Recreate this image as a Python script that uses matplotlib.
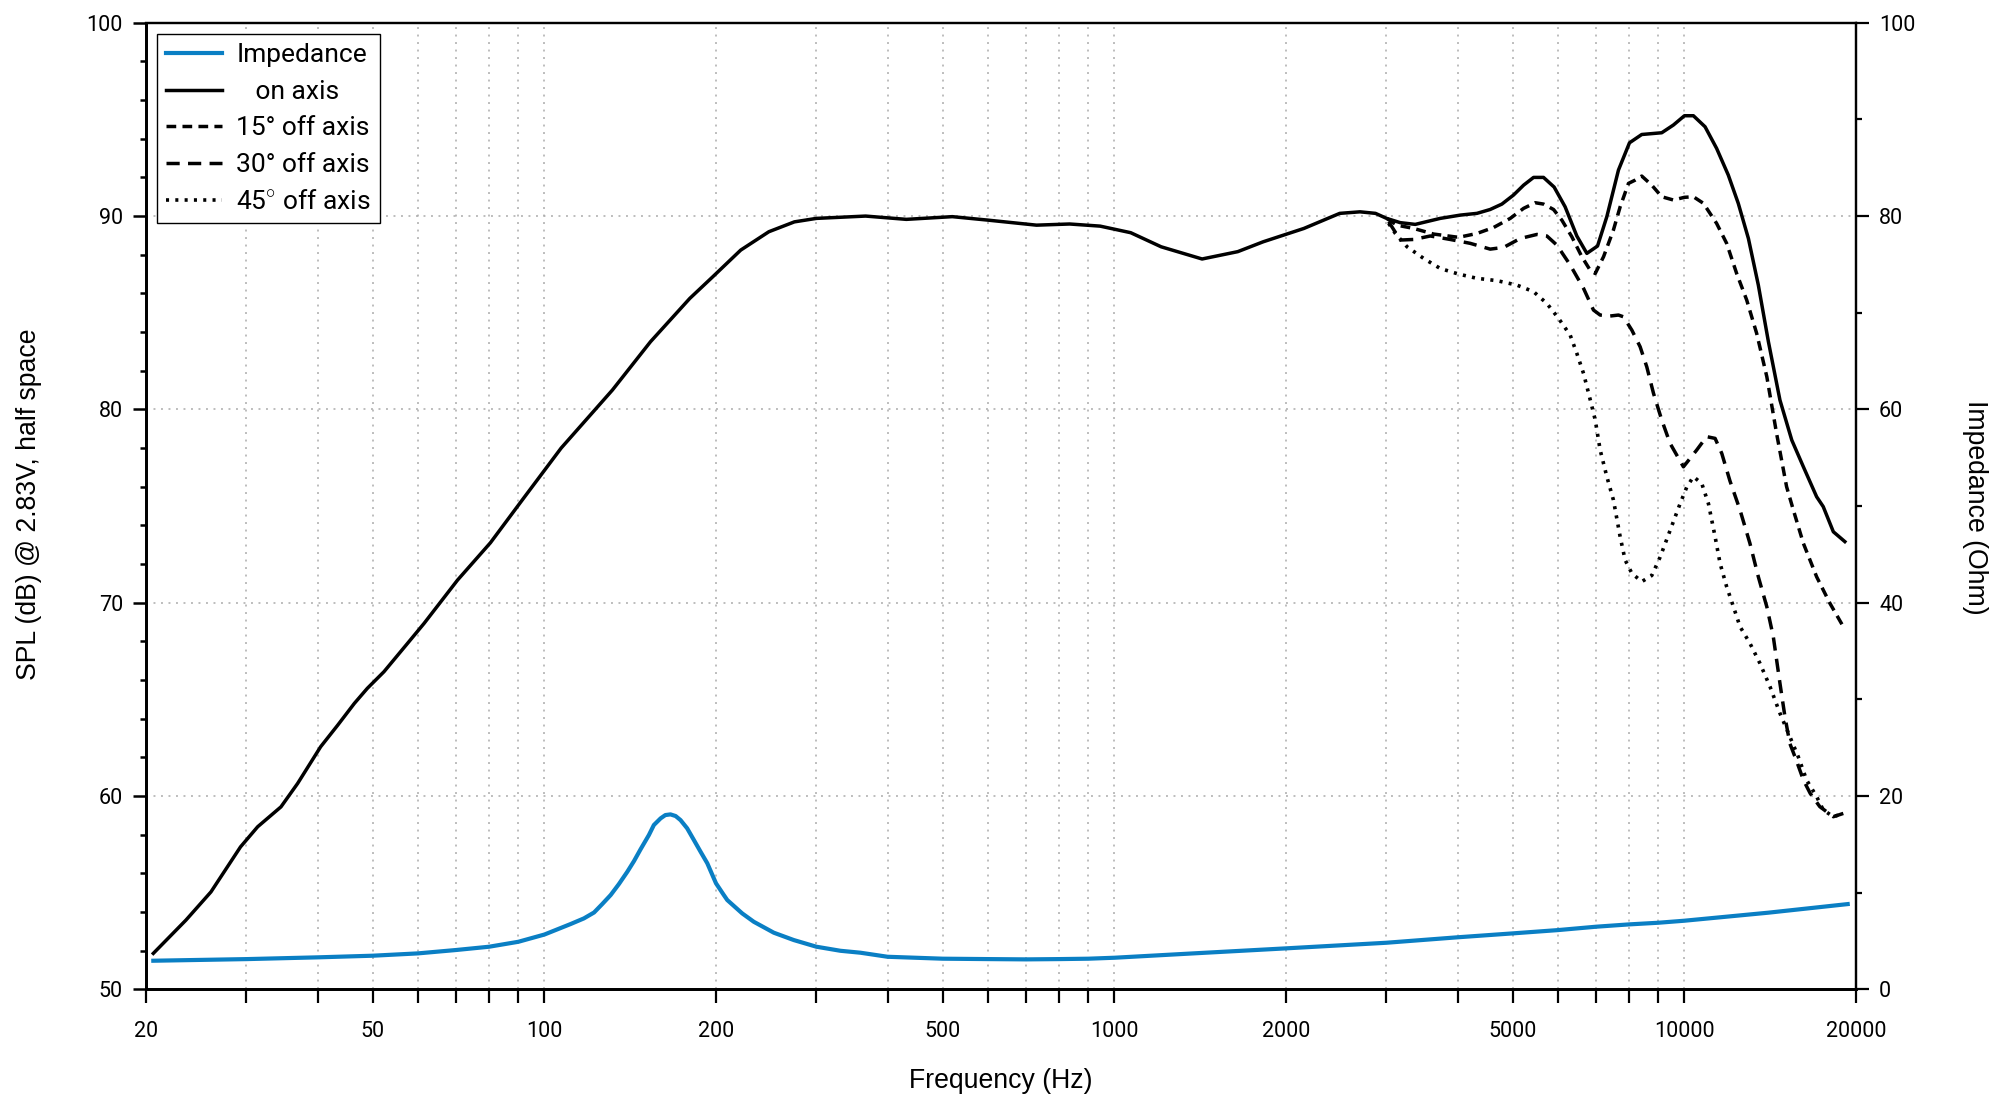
import matplotlib
matplotlib.use("Agg")
import matplotlib.pyplot as plt
from matplotlib.ticker import FixedLocator, FuncFormatter, MultipleLocator, NullLocator

plt.rcParams['font.family'] = ['Roboto', 'DejaVu Sans']
plt.rcParams['lines.scale_dashes'] = False
plt.rcParams['mathtext.fontset'] = 'custom'
plt.rcParams['mathtext.rm'] = 'Roboto'

# on axis SPL
f_on = [20.6, 23.5, 26.0, 29.3, 31.4, 34.5, 36.9, 40.5, 43.4, 46.4, 48.9, 52.3, 57.5, 61.5,
        65.8, 70.4, 80.4, 91.9, 107, 131.6, 153.5, 179.9, 197.4, 221, 247.6, 274.5, 300,
        366, 431.5, 519.6, 600, 730, 834.5, 944, 1068, 1208, 1425, 1646, 1824, 2150, 2485,
        2697, 2871, 3003, 3173, 3371, 3729, 4044, 4325, 4562, 4784, 5015, 5223, 5437, 5660,
        5908, 6176, 6475, 6743, 7040, 7310, 7661, 8010, 8417, 9125, 9565, 10000, 10370,
        10870, 11390, 11940, 12430, 12950, 13480, 14040, 14710, 15430, 16170, 17060, 17520,
        18250, 19120]
spl_on = [51.86, 53.58, 55.04, 57.37, 58.41, 59.44, 60.65, 62.55, 63.67, 64.79, 65.57, 66.43,
          67.89, 68.93, 70.05, 71.17, 73.1, 75.4, 78.0, 81.0, 83.5, 85.74, 86.86, 88.24, 89.19,
          89.7, 89.88, 90.0, 89.83, 89.97, 89.79, 89.53, 89.59, 89.48, 89.14, 88.41, 87.78,
          88.16, 88.67, 89.36, 90.14, 90.22, 90.14, 89.88, 89.66, 89.57, 89.88, 90.05, 90.14,
          90.34, 90.62, 91.09, 91.6, 92.0, 92.0, 91.5, 90.48, 88.97, 88.07, 88.45, 89.97,
          92.38, 93.79, 94.22, 94.31, 94.71, 95.19, 95.19, 94.62, 93.5, 92.12, 90.66, 88.84,
          86.43, 83.5, 80.48, 78.41, 77.03, 75.48, 74.97, 73.67, 73.16]

# 15 deg off axis
f_15 = [3005, 3131, 3350, 3631, 4016, 4325, 4627, 4948, 5223, 5473, 5660, 5894, 6095, 6346,
        6607, 6834, 6975, 7214, 7507, 7714, 7977, 8195, 8417, 8764, 9125, 9565, 10000, 10370,
        10797, 11390, 11860, 12350, 12860, 13390, 13950, 14510, 15110, 15530, 16170, 17060,
        18000, 19000]
spl_15 = [89.88, 89.53, 89.36, 89.07, 88.9, 89.1, 89.41, 89.88, 90.4, 90.69, 90.62, 90.34,
          89.79, 88.93, 87.9, 87.2, 87.03, 87.9, 89.28, 90.48, 91.69, 91.86, 92.07, 91.6, 91.0,
          90.83, 90.97, 91.0, 90.66, 89.62, 88.59, 87.03, 85.66, 83.93, 81.69, 78.76, 76.0,
          74.79, 73.07, 71.34, 69.97, 68.76]

# 30 deg off axis
f_30 = [3028, 3173, 3350, 3582, 3883, 4209, 4563, 4818, 5151, 5511, 5737, 5973, 6304, 6653,
        6925, 7115, 7407, 7661, 7817, 8087, 8362, 8590, 8826, 9125, 9438, 9960, 10510, 10940,
        11320, 11630, 12020, 12520, 13030, 13480, 13950, 14320, 14710, 15010, 15310, 15710,
        16170, 16620, 17280, 18250, 19000]
spl_30 = [89.71, 88.76, 88.79, 88.97, 88.79, 88.59, 88.29, 88.38, 88.84, 89.05, 88.97, 88.5,
          87.47, 86.26, 85.14, 84.88, 84.83, 84.88, 84.79, 84.1, 83.24, 82.2, 80.83, 79.45,
          78.24, 77.03, 77.9, 78.59, 78.5, 77.72, 76.3, 74.79, 73.07, 71.34, 69.79, 68.24,
          65.83, 64.1, 62.72, 61.86, 60.83, 60.14, 59.45, 58.93, 59.1]

# 45 deg off axis
f_45 = [3028, 3111, 3262, 3487, 3729, 4016, 4325, 4688, 5083, 5437, 5737, 6014, 6304, 6475,
        6653, 6838, 6975, 7115, 7310, 7507, 7714, 7870, 8087, 8417, 8766, 9065, 9438, 9826,
        10095, 10370, 10725, 11020, 11320, 11550, 11860, 12190, 12520, 13030, 13570, 14130,
        14710, 15310, 15840, 16380, 17060, 17520, 18250, 19000]
spl_45 = [89.62, 89.1, 88.41, 87.81, 87.29, 87.0, 86.78, 86.66, 86.43, 86.09, 85.48, 84.71,
          83.84, 82.9, 81.86, 80.48, 79.45, 77.9, 76.52, 75.31, 73.41, 72.21, 71.52, 71.09,
          71.41, 72.36, 73.74, 75.12, 75.98, 76.52, 76.17, 75.12, 73.41, 72.03, 70.83, 69.79,
          68.76, 67.9, 66.86, 65.66, 64.28, 63.07, 62.03, 60.83, 59.97, 59.28, 58.93, 59.1]

# impedance
f_imp = [20.6, 30.1, 40, 50, 60, 70, 80, 90, 100, 111.2, 117.3, 122.2, 126.3, 130.7, 135.1,
         139.8, 143.6, 147.5, 152.5, 155.6, 159.9, 163.0, 166.4, 169.9, 173.3, 178.0, 182.9,
         187.9, 193.1, 200, 206.4, 209.3, 222.3, 233, 252.6, 273.8, 300, 330.6, 358.4, 400,
         500, 600, 700, 800, 900, 1000, 1376, 2000, 3000, 3990, 5000, 6000, 7000, 8000, 9000,
         10000, 14030, 19340]
z_imp = [2.96, 3.13, 3.31, 3.48, 3.72, 4.07, 4.41, 4.92, 5.67, 6.76, 7.34, 7.95, 8.82, 9.76,
         10.89, 12.17, 13.27, 14.5, 15.96, 17.0, 17.69, 18.03, 18.1, 17.93, 17.51, 16.66, 15.45,
         14.24, 13.04, 10.97, 9.76, 9.24, 7.86, 6.99, 5.86, 5.1, 4.41, 3.99, 3.79, 3.37,
         3.17, 3.13, 3.10, 3.13, 3.17, 3.27, 3.72, 4.24, 4.82, 5.38, 5.79, 6.13, 6.48, 6.72,
         6.89, 7.1, 7.93, 8.82]

x_ticks = [20, 30, 40, 50, 60, 70, 80, 90, 100, 200, 300, 400, 500, 600, 700, 800, 900,
           1000, 2000, 3000, 4000, 5000, 6000, 7000, 8000, 9000, 10000, 20000]
x_labels = [20, 50, 100, 200, 500, 1000, 2000, 5000, 10000, 20000]

labels = ['Impedance', '   on axis', '15° off axis', '30° off axis', '45$^{\\circ}$ off axis']

fig = plt.figure(figsize=(20, 11.1), dpi=100)
ax = fig.add_axes([0.073, 0.1087, 0.855, 0.8708])
ax2 = ax.twinx()

imp_line, = ax2.plot(f_imp, z_imp, color='#0A7FC4', lw=3.0)
on_line, = ax.plot(f_on, spl_on, color='black', lw=2.5)
l15, = ax.plot(f_15, spl_15, color='black', lw=2.5, linestyle=(0, (7, 4.5)))
l30, = ax.plot(f_30, spl_30, color='black', lw=2.5, linestyle=(0, (9.5, 6)))
l45, = ax.plot(f_45, spl_45, color='black', lw=2.6, linestyle=(0, (2.2, 4.5)))

ax.set_xscale('log')
ax.set_xlim(20, 20000)
ax.set_ylim(50, 100)
ax2.set_ylim(0, 100)

ax.xaxis.set_major_locator(FixedLocator(x_ticks))
ax.xaxis.set_minor_locator(NullLocator())
ax.xaxis.set_major_formatter(FuncFormatter(lambda v, p: '%d' % v if int(round(v)) in x_labels else ''))
ax.yaxis.set_major_locator(MultipleLocator(10))
ax.yaxis.set_minor_locator(MultipleLocator(2))
ax2.yaxis.set_major_locator(MultipleLocator(20))
ax2.yaxis.set_minor_locator(MultipleLocator(10))

ax.grid(True, which='major', color='#ababab', lw=1.1, linestyle=(0, (1.4, 4)))

ax.tick_params(axis='x', which='major', direction='out', length=10, width=1.6, pad=13, labelsize=15.5)
ax.tick_params(axis='y', which='major', direction='out', length=9.6, width=1.8, pad=7, labelsize=15.5)
ax.tick_params(axis='y', which='minor', direction='out', length=4.5, width=1.8)
ax2.tick_params(axis='y', which='major', direction='out', length=9.6, width=1.6, pad=7, labelsize=15.5)
ax2.tick_params(axis='y', which='minor', direction='out', length=4.5, width=1.6)

for a in (ax, ax2):
    for side in ['left', 'bottom']:
        a.spines[side].set_linewidth(2.0)
    for side in ['top', 'right']:
        a.spines[side].set_linewidth(1.6)

lab_font = ['Liberation Sans', 'DejaVu Sans']
ax.set_xlabel('Frequency (Hz)', fontsize=19.2, family=lab_font)
ax.xaxis.set_label_coords(0.5, -0.081)
ax.set_ylabel('SPL (dB) @ 2.83V, half space', fontsize=19.2, family=lab_font)
ax.yaxis.set_label_coords(-0.061, 0.502)
ax2.set_ylabel('Impedance (Ohm)', fontsize=19.2, family=lab_font, rotation=270, va='bottom')
ax2.yaxis.set_label_coords(1.062, 0.499)

leg = ax2.legend([imp_line, on_line, l15, l30, l45], labels, loc='upper left', fontsize=19,
                 frameon=True, fancybox=False, edgecolor='black', framealpha=1,
                 borderaxespad=0.42, handlelength=2.1, handletextpad=0.55,
                 labelspacing=0.48, borderpad=0.35)
leg.get_frame().set_linewidth(1.0)

fig.savefig('out.png', dpi=100)
